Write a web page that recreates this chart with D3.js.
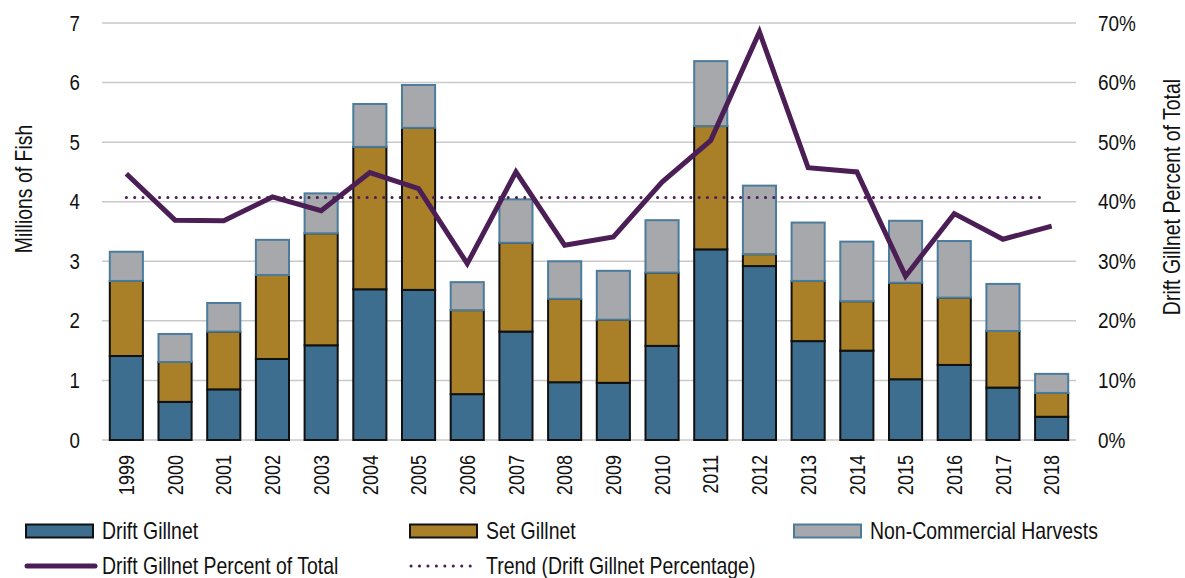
<!DOCTYPE html>
<html>
<head>
<meta charset="utf-8">
<script src="https://cdn.jsdelivr.net/npm/d3@7"></script>
<style>
  body { margin: 0; background: #fff; }
  text { font-family: "Liberation Sans", Arial, sans-serif; fill: #111; }
</style>
</head>
<body>
<div id="chart"></div>
<script>
var years = ["1999","2000","2001","2002","2003","2004","2005","2006","2007","2008","2009","2010","2011","2012","2013","2014","2015","2016","2017","2018"];
var driftGillnet = [1.41,0.64,0.85,1.36,1.59,2.53,2.52,0.77,1.82,0.97,0.96,1.58,3.20,2.92,1.66,1.50,1.02,1.26,0.88,0.39];
var setGillnet = [1.26,0.67,0.97,1.41,1.88,2.39,2.72,1.41,1.49,1.40,1.06,1.23,2.07,0.20,1.01,0.83,1.62,1.13,0.95,0.40];
var nonCommercial = [0.49,0.47,0.48,0.59,0.67,0.72,0.72,0.47,0.73,0.63,0.82,0.88,1.09,1.15,0.98,1.00,1.04,0.95,0.79,0.32];
var driftPercent = [44.7,36.9,36.8,40.8,38.5,44.9,42.2,29.6,45.0,32.7,34.1,43.3,50.3,68.5,45.7,45.0,27.5,38.0,33.7,35.9];
var trendPercent = 40.7;
var leftTicks = [0,1,2,3,4,5,6,7];
var rightTicks = [0,10,20,30,40,50,60,70];

var width = 1185, height = 578;
var margin = {top: 23, right: 109, bottom: 138, left: 102};

// squeeze text horizontally to mimic the condensed font of the original
function condense(sel, factor) {
	sel.each(function () {
		var len = this.getComputedTextLength();
		d3.select(this)
			.attr("textLength", len * factor)
			.attr("lengthAdjust", "spacingAndGlyphs");
	});
}

var svg = d3.select("#chart").append("svg")
	.attr("width", width)
	.attr("height", height);

var x = d3.scaleBand()
	.domain(years)
	.range([margin.left, width - margin.right])
	.paddingInner(0.32)
	.paddingOuter(0.16);

var y = d3.scaleLinear().domain([0, 7]).range([height - margin.bottom, margin.top]);
var yr = d3.scaleLinear().domain([0, 70]).range([height - margin.bottom, margin.top]);

// gridlines
svg.append("g")
	.selectAll("line")
	.data(leftTicks)
	.enter()
	.append("line")
	.attr("x1", margin.left)
	.attr("x2", width - margin.right)
	.attr("y1", function (d) { return y(d); })
	.attr("y2", function (d) { return y(d); })
	.attr("stroke", "#c9c9c9")
	.attr("stroke-width", 1.5);

// left axis
var yAxis = svg.append("g")
	.attr("font-family", null)
	.attr("transform", "translate(" + margin.left + ",0)")
	.call(d3.axisLeft(y).tickValues(leftTicks).tickSize(0).tickPadding(22).tickFormat(d3.format("d")));
yAxis.attr("font-family", null).select(".domain").remove();
yAxis.selectAll("text").style("font-size", "22px").call(condense, 0.85);

// right axis
var yrAxis = svg.append("g")
	.attr("transform", "translate(" + (width - margin.right) + ",0)")
	.call(d3.axisRight(yr).tickValues(rightTicks).tickSize(0).tickPadding(22)
		.tickFormat(function (d) { return d + "%"; }));
yrAxis.attr("font-family", null).select(".domain").remove();
yrAxis.selectAll("text").style("font-size", "22px").call(condense, 0.86);

// x axis labels
var xAxis = svg.append("g")
	.attr("transform", "translate(0," + (height - margin.bottom) + ")")
	.call(d3.axisBottom(x).tickSize(0).tickPadding(0));
xAxis.attr("font-family", null).select(".domain").remove();
xAxis.selectAll("text")
	.style("font-size", "22px")
	.attr("text-anchor", "end")
	.attr("transform", "translate(0,15) rotate(-90)")
	.attr("dy", "0.35em")
	.attr("y", 0)
	.attr("x", 0)
	.call(condense, 0.82);

// axis titles
svg.append("text")
	.attr("transform", "translate(32,189) rotate(-90)")
	.attr("text-anchor", "middle")
	.style("font-size", "24px")
	.text("Millions of Fish")
	.call(condense, 0.81);

svg.append("text")
	.attr("transform", "translate(1180,197) rotate(-90)")
	.attr("text-anchor", "middle")
	.style("font-size", "24px")
	.text("Drift Gillnet Percent of Total")
	.call(condense, 0.81);

// stacked bars
var rows = years.map(function (yv, i) {
	return {year: yv, drift: driftGillnet[i], set: setGillnet[i], non: nonCommercial[i]};
});
var keys = ["drift", "set", "non"];
var fills = {drift: "#3d6e8f", set: "#a98028", non: "#a7a8ab"};
var strokes = {drift: "#111", set: "#111", non: "#4b7c9c"};
var stacked = d3.stack().keys(keys)(rows);

svg.append("g")
	.selectAll("g")
	.data(stacked)
	.enter()
	.append("g")
	.attr("fill", function (d) { return fills[d.key]; })
	.attr("stroke", function (d) { return strokes[d.key]; })
	.attr("stroke-width", 2)
	.selectAll("rect")
	.data(function (d) { return d; })
	.enter()
	.append("rect")
	.attr("x", function (d) { return x(d.data.year); })
	.attr("width", x.bandwidth())
	.attr("y", function (d) { return y(d[1]); })
	.attr("height", function (d) { return y(d[0]) - y(d[1]); });

// trend line
svg.append("line")
	.attr("x1", x(years[0]) + x.bandwidth() / 2)
	.attr("x2", x(years[years.length - 1]) + x.bandwidth() / 2 - 5)
	.attr("y1", yr(trendPercent))
	.attr("y2", yr(trendPercent))
	.attr("stroke", "#4b1e55")
	.attr("stroke-width", 3)
	.attr("stroke-linecap", "round")
	.attr("stroke-dasharray", "0.1 8.2");

// percent line
var line = d3.line()
	.x(function (d, i) { return x(years[i]) + x.bandwidth() / 2; })
	.y(function (d) { return yr(d); });

svg.append("path")
	.datum(driftPercent)
	.attr("d", line)
	.attr("fill", "none")
	.attr("stroke", "#4b1e55")
	.attr("stroke-width", 5)
	.attr("stroke-linejoin", "miter");

// legend
var legendItems = [
	{label: "Drift Gillnet", type: "rect", key: "drift", x: 25, y: 531},
	{label: "Set Gillnet", type: "rect", key: "set", x: 409, y: 531},
	{label: "Non-Commercial Harvests", type: "rect", key: "non", x: 793, y: 531},
	{label: "Drift Gillnet Percent of Total", type: "line", x: 25, y: 566},
	{label: "Trend (Drift Gillnet Percentage)", type: "dots", x: 409, y: 566}
];

var legend = svg.append("g")
	.selectAll("g")
	.data(legendItems)
	.enter()
	.append("g")
	.attr("transform", function (d) { return "translate(" + d.x + "," + d.y + ")"; });

legend.filter(function (d) { return d.type === "rect"; })
	.append("rect")
	.attr("x", 1)
	.attr("y", -6.5)
	.attr("width", 67)
	.attr("height", 13)
	.attr("fill", function (d) { return fills[d.key]; })
	.attr("stroke", function (d) { return strokes[d.key]; })
	.attr("stroke-width", 2);

legend.filter(function (d) { return d.type === "line"; })
	.append("line")
	.attr("x1", 2).attr("x2", 70)
	.attr("stroke", "#4b1e55")
	.attr("stroke-width", 5)
	.attr("stroke-linecap", "round");

legend.filter(function (d) { return d.type === "dots"; })
	.append("line")
	.attr("x1", 2).attr("x2", 69)
	.attr("stroke", "#4b1e55")
	.attr("stroke-width", 3)
	.attr("stroke-linecap", "round")
	.attr("stroke-dasharray", "0.1 8.35");

legend.append("text")
	.attr("x", 77)
	.attr("dy", "0.35em")
	.style("font-size", "24px")
	.text(function (d) { return d.label; })
	.call(condense, 0.81);
</script>
</body>
</html>
